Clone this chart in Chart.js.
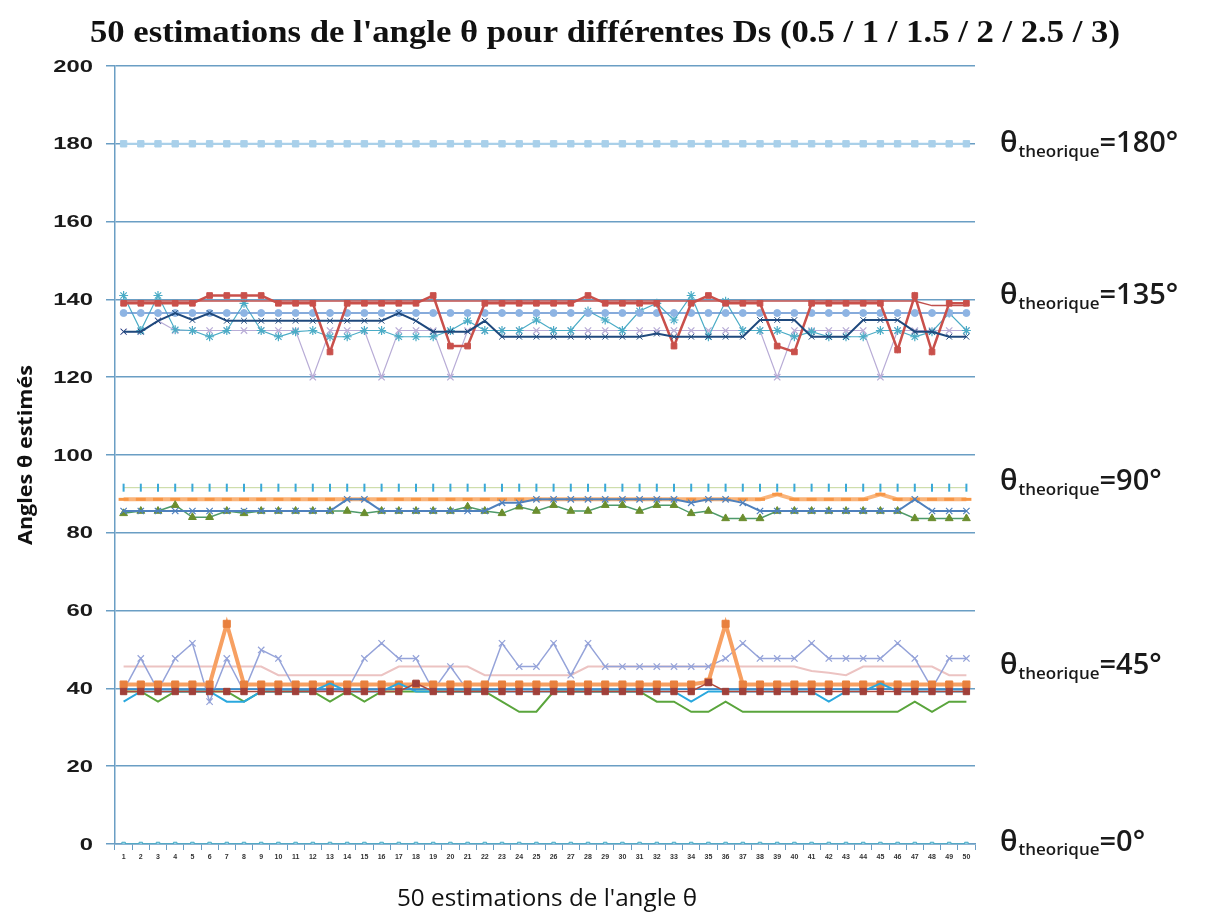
<!DOCTYPE html>
<html>
<head>
<meta charset="utf-8">
<script src="https://cdn.jsdelivr.net/npm/chart.js@4.4.0/dist/chart.umd.min.js"></script>
<style>
  html, body { margin: 0; padding: 0; background: #fff; }
  canvas { display: block; }
</style>
</head>
<body>
<canvas id="chart" width="1210" height="919"></canvas>
<script>
// x categories: estimation number
const labels = ["1","2","3","4","5","6","7","8","9","10","11","12","13","14","15","16","17","18","19","20","21","22","23","24","25",
  "26","27","28","29","30","31","32","33","34","35","36","37","38","39","40","41","42","43","44","45","46","47","48","49","50"];

const yTicks = [0, 20, 40, 60, 80, 100, 120, 140, 160, 180, 200];

// theta = 180
const s180 = [180,180,180,180,180,180,180,180,180,180,180,180,180,180,180,180,180,180,180,180,180,180,180,180,180,
  180,180,180,180,180,180,180,180,180,180,180,180,180,180,180,180,180,180,180,180,180,180,180,180,180];

// theta = 135
const red135 = [139,139,139,139,139,141,141,141,141,139,139,139,126.5,139,139,139,139,139,141,128,128,139,139,139,139,
  139,139,141,139,139,139,139,128,139,141,139,139,139,128,126.5,139,139,139,139,139,127,141,126.5,139,139];
const redLine135 = [139.6,139.6,139.6,139.6,139.6,139.6,139.6,139.6,139.6,139.6,139.6,139.6,139.6,139.6,139.6,139.6,139.6,139.6,139.6,139.6,139.6,139.6,139.6,139.6,139.6,
  139.6,139.6,139.6,139.6,139.6,139.6,139.6,139.6,139.6,139.6,139.6,139.6,139.6,139.6,139.6,139.6,139.6,139.6,139.6,139.6,139.6,139.6,138.4,138.4,138.4];
const blue135 = [136.5,136.5,136.5,136.5,136.5,136.5,136.5,136.5,136.5,136.5,136.5,136.5,136.5,136.5,136.5,136.5,136.5,136.5,136.5,136.5,136.5,136.5,136.5,136.5,136.5,
  136.5,136.5,136.5,136.5,136.5,136.5,136.5,136.5,136.5,136.5,136.5,136.5,136.5,136.5,136.5,136.5,136.5,136.5,136.5,136.5,136.5,136.5,136.5,136.5,136.5];
const navy135 = [131.7,131.7,134.5,136.5,134.7,136.5,134.5,134.5,134.5,134.5,134.5,134.5,134.5,134.5,134.5,134.5,136.5,134.5,131.7,131.7,131.7,134.5,130.4,130.4,130.4,
  130.4,130.4,130.4,130.4,130.4,130.4,131.2,130.4,130.4,130.4,130.4,130.4,134.7,134.7,134.7,130.4,130.4,130.4,134.7,134.7,134.7,131.7,131.7,130.4,130.4];
const cyan135 = [141,132,141,132.2,132,130.4,132,139,132,130.4,131.7,132,130.4,130.4,132,132,130.4,130.4,130.4,132,134.5,132,132,132,134.7,
  132,132,137,134.7,132,137,139,134.7,141,130.4,139.5,132,132,132,130.4,131.7,130.4,130.4,130.4,132,132,130.4,131.7,136.5,132];
const lav135 = [131.7,131.7,134.5,132,132,132,132,132,132,132,132,120,132,132,132,120,132,132,132,120,132,132,132,132,132,
  132,132,132,132,132,132,132,132,132,132,132,132,132,120,132,132,132,132,132,120,132,132,132,132,132];

// theta = 90
const teal90 = [91.6,91.6,91.6,91.6,91.6,91.6,91.6,91.6,91.6,91.6,91.6,91.6,91.6,91.6,91.6,91.6,91.6,91.6,91.6,91.6,91.6,91.6,91.6,91.6,91.6,
  91.6,91.6,91.6,91.6,91.6,91.6,91.6,91.6,91.6,91.6,91.6,91.6,91.6,91.6,91.6,91.6,91.6,91.6,91.6,91.6,91.6,91.6,91.6,91.6,91.6];
const orange90 = [88.6,88.6,88.6,88.6,88.6,88.6,88.6,88.6,88.6,88.6,88.6,88.6,88.6,88.6,88.6,88.6,88.6,88.6,88.6,88.6,88.6,88.6,88.6,88.6,88.6,
  88.6,88.6,88.6,88.6,88.6,88.6,88.6,88.6,88.6,88.6,88.6,88.6,88.6,89.9,88.6,88.6,88.6,88.6,88.6,89.9,88.6,88.6,88.6,88.6,88.6];
const blue90 = [85.6,85.6,85.6,85.6,85.6,85.6,85.6,85.6,85.6,85.6,85.6,85.6,85.6,88.6,88.6,85.6,85.6,85.6,85.6,85.6,85.6,85.6,87.7,87.7,88.6,
  88.6,88.6,88.6,88.6,88.6,88.6,88.6,88.6,87.7,88.6,88.6,87.7,85.6,85.6,85.6,85.6,85.6,85.6,85.6,85.6,85.6,88.6,85.6,85.6,85.6];
const green90 = [85,85.6,85.6,87.1,84,84,85.6,85,85.6,85.6,85.6,85.6,85.6,85.6,85,85.6,85.6,85.6,85.6,85.6,86.7,85.6,85,86.7,85.6,
  87.1,85.6,85.6,87.1,87.1,85.6,87.1,87.1,85,85.6,83.7,83.7,83.7,85.6,85.6,85.6,85.6,85.6,85.6,85.6,85.6,83.7,83.7,83.7,83.7];

// theta = 45
const orange45 = [41,41,41,41,41,41,56.6,41,41,41,41,41,41,41,41,41,41,41,41,41,41,41,41,41,41,
  41,41,41,41,41,41,41,41,41,41.7,56.6,41,41,41,41,41,41,41,41,41,41,41,41,41,41];
const darkRed45 = [39.2,39.2,39.2,39.2,39.2,39.2,39.2,39.2,39.2,39.2,39.2,39.2,39.2,39.2,39.2,39.2,39.2,41.3,39.2,39.2,39.2,39.2,39.2,39.2,39.2,
  39.2,39.2,39.2,39.2,39.2,39.2,39.2,39.2,39.2,41.5,39.2,39.2,39.2,39.2,39.2,39.2,39.2,39.2,39.2,39.2,39.2,39.2,39.2,39.2,39.2];
const lav45 = [39.5,47.7,39.5,47.7,51.6,36.6,47.7,39.2,49.9,47.7,39.5,39.5,39.5,39.5,47.7,51.6,47.7,47.7,39.5,45.6,39.5,39.5,51.6,45.6,45.6,
  51.6,43.4,51.6,45.6,45.6,45.6,45.6,45.6,45.6,45.6,47.7,51.6,47.7,47.7,47.7,51.6,47.7,47.7,47.7,47.7,51.6,47.7,40,47.7,47.7];
const pink45 = [45.6,45.6,45.6,45.6,45.6,45.6,45.6,45.6,45.6,43.4,43.4,43.4,43.4,43.4,43.4,43.4,45.6,45.6,45.6,45.6,45.6,43.4,43.4,43.4,43.4,
  43.4,43.4,45.6,45.6,45.6,45.6,45.6,45.6,45.6,45.6,45.6,45.6,45.6,45.6,45.6,44.5,44,43.4,45.6,45.6,45.6,45.6,45.6,43.4,43.4];
const cyan45 = [36.6,39.2,39.2,39.2,39.2,39.2,36.6,36.6,39.2,39.2,39.2,39.2,41.3,39.2,39.2,39.2,41.3,39.2,39.2,39.2,39.2,39.2,39.2,39.2,39.2,
  39.2,39.2,39.2,39.2,39.2,39.2,39.2,39.2,36.6,39.2,39.2,39.2,39.2,39.2,39.2,39.2,36.6,39.2,39.2,41.3,39.2,39.2,39.2,39.2,39.2];
const green45 = [39.2,39.2,36.6,39.2,39.2,39.2,39.2,36.6,39.2,39.2,39.2,39.2,36.6,39.2,36.6,39.2,39.2,39.2,39.2,39.2,39.2,39.2,36.6,34,34,
  39.2,39.2,39.2,39.2,39.2,39.2,36.6,36.6,34,34,36.6,34,34,34,34,34,34,34,34,34,34,36.6,34,36.6,36.6];
const blue45 = [39.8,39.8,39.8,39.8,39.8,39.8,39.8,39.8,39.8,39.8,39.8,39.8,39.8,39.8,39.8,39.8,39.8,39.8,39.8,39.8,39.8,39.8,39.8,39.8,39.8,
  39.8,39.8,39.8,39.8,39.8,39.8,39.8,39.8,39.8,39.8,39.8,39.8,39.8,39.8,39.8,39.8,39.8,39.8,39.8,39.8,39.8,39.8,39.8,39.8,39.8];

// theta = 0
const s0 = [0,0,0,0,0,0,0,0,0,0,0,0,0,0,0,0,0,0,0,0,0,0,0,0,0,
  0,0,0,0,0,0,0,0,0,0,0,0,0,0,0,0,0,0,0,0,0,0,0,0,0];

// right-hand annotations
const theoryAngles = ["180°", "135°", "90°", "45°", "0°"];
const theoryLevels = [180, 140.9, 93.1, 45.8, 0.4];

const gridColor = "#6a9ec4";

function ds(data, color, opts) {
  return Object.assign({
    data: data,
    borderColor: color,
    backgroundColor: color,
    borderWidth: 1.5,
    pointRadius: 0,
    pointBorderColor: color,
    pointBackgroundColor: color,
    pointBorderWidth: 1,
    tension: 0,
    fill: false
  }, opts || {});
}

// draw text stretched horizontally by factor k, anchored by ctx.textAlign
function stretchText(ctx, text, x, y, k) {
  ctx.save();
  ctx.translate(x, y);
  ctx.scale(k, 1);
  ctx.fillText(text, 0, 0);
  ctx.restore();
}

const textPlugin = {
  id: "texts",
  afterDraw(chart) {
    const ctx = chart.ctx;
    const y = chart.scales.y;
    ctx.save();
    ctx.fillStyle = "#111";

    // title, fitted to the reference width
    const title = "50 estimations de l'angle θ pour différentes Ds (0.5 / 1 / 1.5 / 2 / 2.5 / 3)";
    ctx.font = "bold 32px 'Liberation Serif'";
    ctx.textAlign = "center";
    ctx.textBaseline = "alphabetic";
    stretchText(ctx, title, 605, 42, 1030 / ctx.measureText(title).width);

    // x axis title
    ctx.font = "23px 'Open Sans'";
    ctx.textBaseline = "middle";
    const xt = "50 estimations de l'angle θ";
    stretchText(ctx, xt, 547, 899, 300 / ctx.measureText(xt).width);

    // y axis title
    ctx.save();
    ctx.translate(27, 455);
    ctx.rotate(-Math.PI / 2);
    ctx.font = "bold 19px 'Open Sans'";
    const yt = "Angles θ estimés";
    stretchText(ctx, yt, 0, 0, 180 / ctx.measureText(yt).width);
    ctx.restore();

    // y tick labels
    ctx.font = "bold 17px 'Liberation Sans'";
    ctx.textAlign = "right";
    ctx.fillStyle = "#1a1a1a";
    yTicks.forEach(v => {
      stretchText(ctx, String(v), 93, y.getPixelForValue(v) + 1, 1.4);
    });

    // theoretical angle labels
    ctx.textAlign = "left";
    theoryAngles.forEach((a, i) => {
      const py = y.getPixelForValue(theoryLevels[i]);
      let px = 1000;
      ctx.font = "600 29px 'Open Sans'";
      ctx.fillText("θ", px, py);
      px += ctx.measureText("θ").width + 1;
      ctx.font = "600 17px 'Open Sans'";
      ctx.fillText("theorique", px, py + 8);
      px += ctx.measureText("theorique").width;
      ctx.font = "600 29px 'Open Sans'";
      ctx.fillText("=" + a, px, py);
    });
    ctx.restore();
  }
};

new Chart(document.getElementById("chart"), {
  type: "line",
  data: {
    labels: labels,
    datasets: [
      ds(s0, "#4bacc6", { pointStyle: "rect", pointRadius: 2.5, pointBackgroundColor: "#8fd0e6" }),
      ds(s180, "#a9d0ea", { borderWidth: 2, pointStyle: "rect", pointRadius: 4.5 }),

      ds(navy135, "#1f497d", { borderWidth: 2, pointStyle: "crossRot", pointRadius: 4 }),
      ds(red135, "#c9504b", { borderWidth: 2.5, pointStyle: "rect", pointRadius: 4 }),
      ds(redLine135, "#c0504d", { borderWidth: 1.5 }),
      ds(blue135, "#5f8fcf", { pointStyle: "circle", pointRadius: 3.5, pointBackgroundColor: "#8eb4e3", pointBorderColor: "#8eb4e3" }),
      ds(cyan135, "#4bacc6", { borderWidth: 1.2, pointStyle: "star", pointRadius: 4.5, pointBorderWidth: 1.2 }),
      ds(lav135, "#b8acd6", { borderWidth: 1.2, pointStyle: "crossRot", pointRadius: 4.5, pointBorderWidth: 1.2 }),

      ds(blue90, "#4f81bd", { borderWidth: 2, pointStyle: "crossRot", pointRadius: 4.5, pointBorderWidth: 1.2 }),
      ds(green90, "#4e9a6a", { borderWidth: 1.5, pointStyle: "triangle", pointRadius: 4.5, pointBackgroundColor: "#6b8e2f", pointBorderColor: "#6b8e2f" }),
      ds(orange90, "#fab47a", { borderWidth: 4, pointStyle: "line", pointRadius: 5, pointBorderWidth: 3, pointBorderColor: "#f79646" }),
      ds(teal90, "#c4d79b", { borderWidth: 1, pointStyle: "line", rotation: 90, pointRadius: 4, pointBorderWidth: 2, pointBorderColor: "#3aa8d8" }),

      ds(darkRed45, "#b04a3c", { borderWidth: 1.5, pointStyle: "rect", pointRadius: 4.5, pointBackgroundColor: "#a0403a", pointBorderColor: "#a0403a" }),
      ds(blue45, "#3b8ccc", { borderWidth: 1.5 }),
      ds(cyan45, "#2aa8de", { borderWidth: 2 }),
      ds(green45, "#5aa53c", { borderWidth: 2 }),
      ds(orange45, "#f7a062", { borderWidth: 4, pointStyle: "rect", pointRadius: 5, pointBackgroundColor: "#e8803e", pointBorderColor: "#e8803e" }),
      ds(lav45, "#95a3d9", { borderWidth: 1.5, pointStyle: "crossRot", pointRadius: 4.5, pointBorderWidth: 1.2 }),
      ds(pink45, "#ecc3c2", { borderWidth: 2 })
    ]
  },
  options: {
    responsive: false,
    animation: false,
    layout: { padding: { left: 0, top: 66, right: 235, bottom: 0 } },
    plugins: {
      legend: { display: false },
      title: { display: false },
      tooltip: { enabled: false }
    },
    scales: {
      x: {
        type: "category",
        offset: true,
        afterFit: (scale) => { scale.height = 75; },
        grid: {
          display: true,
          offset: true,
          drawOnChartArea: false,
          drawTicks: true,
          tickLength: 6,
          color: gridColor
        },
        border: { color: gridColor, width: 1.5 },
        ticks: {
          autoSkip: false,
          maxRotation: 0,
          padding: 3,
          color: "#333",
          font: { family: "'Liberation Sans'", size: 7, weight: "bold" }
        }
      },
      y: {
        min: 0,
        max: 200,
        afterFit: (scale) => { scale.width = 115; },
        afterBuildTicks: (scale) => { scale.ticks = yTicks.map(v => ({ value: v })); },
        grid: {
          color: gridColor,
          lineWidth: 1.5,
          tickLength: 9
        },
        border: { color: gridColor, width: 1.5 },
        ticks: { display: false }
      }
    }
  },
  plugins: [textPlugin]
});
</script>
</body>
</html>
